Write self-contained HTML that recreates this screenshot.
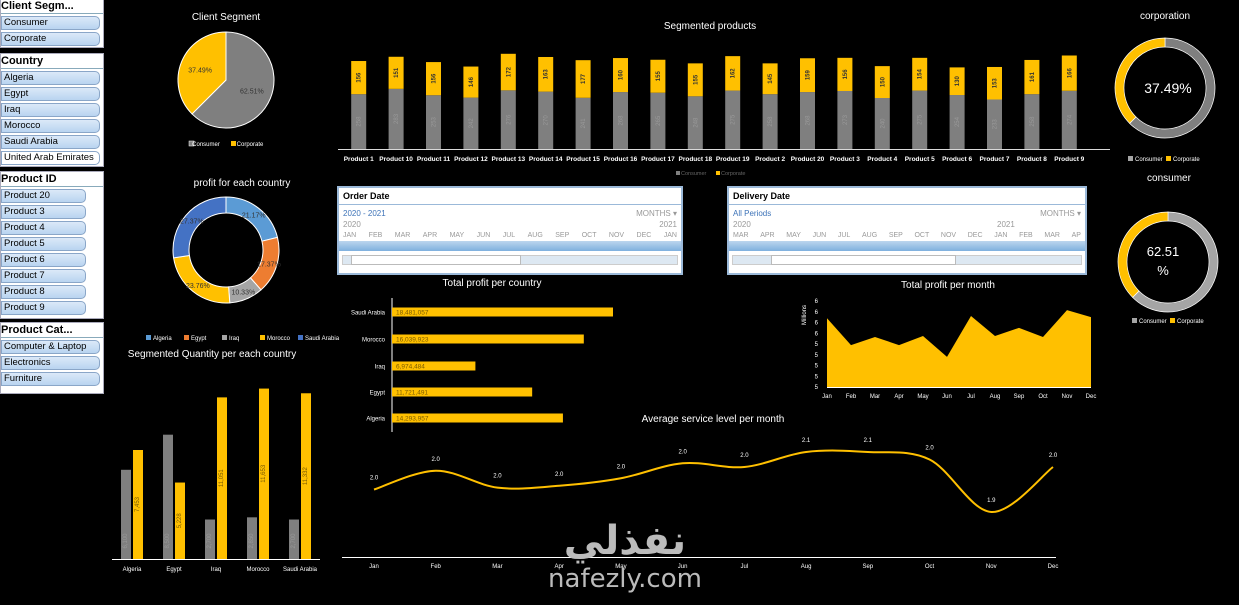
<!DOCTYPE html>
<html><head><meta charset="utf-8">
<style>
*{margin:0;padding:0;box-sizing:border-box}
body{width:1239px;height:605px;background:#000;overflow:hidden;position:relative;font-family:"Liberation Sans",sans-serif}
.panel{position:absolute;left:0;width:104px;background:#fff;border:1px solid #aab;}
.ph{font-weight:bold;font-size:11px;color:#000;height:15px;line-height:14px;padding-left:0;border-bottom:1px solid #8ab;margin-bottom:2px;white-space:nowrap;overflow:hidden}
.it{height:14px;margin:0 0 2px 0;width:99px;background:linear-gradient(#dbe9f8,#b9d4f0);border:1px solid #8aa6c8;border-radius:0 5px 5px 0;font-size:9.5px;line-height:12px;padding-left:2px;color:#000;white-space:nowrap}
.it.off{background:#fff}
.tl{position:absolute;background:#fff;border:2px solid #9bb9d9;font-size:8px;color:#999}
svg{position:absolute;left:0;top:0}
</style></head><body>
<div class="panel" style="top:-2px;height:50px"><div class="ph">Client Segm...</div><div class="it">Consumer</div><div class="it">Corporate</div></div>
<div class="panel" style="top:53px;height:114px"><div class="ph">Country</div>
<div class="it">Algeria</div><div class="it">Egypt</div><div class="it">Iraq</div><div class="it">Morocco</div><div class="it">Saudi Arabia</div><div class="it off">United Arab Emirates</div></div>
<div class="panel" style="top:171px;height:148px"><div class="ph">Product ID</div>
<div class="it" style="width:85px">Product 20</div><div class="it" style="width:85px">Product 3</div><div class="it" style="width:85px">Product 4</div><div class="it" style="width:85px">Product 5</div><div class="it" style="width:85px">Product 6</div><div class="it" style="width:85px">Product 7</div><div class="it" style="width:85px">Product 8</div><div class="it" style="width:85px">Product 9</div></div>
<div class="panel" style="top:322px;height:72px"><div class="ph">Product Cat...</div>
<div class="it">Computer &amp; Laptop</div><div class="it">Electronics</div><div class="it">Furniture</div></div>

<div class="tl" style="left:337px;top:186px;width:346px;height:89px">
<div style="font-size:9px;font-weight:bold;color:#000;padding:3px 4px;border-bottom:1px solid #9bb9d9;height:17px">Order Date</div>
<div style="color:#3d73b8;font-size:8px;padding:4px 4px 2px">2020 - 2021<span style="float:right;color:#999">MONTHS ▾</span></div>
<div style="padding:0 4px">2020<span style="float:right">2021</span></div>
<div style="padding:3px 4px 2px;display:flex;justify-content:space-between;font-size:7px"><span>JAN</span><span>FEB</span><span>MAR</span><span>APR</span><span>MAY</span><span>JUN</span><span>JUL</span><span>AUG</span><span>SEP</span><span>OCT</span><span>NOV</span><span>DEC</span><span>JAN</span></div>
<div style="height:10px;background:linear-gradient(#bcd6ee,#7fb0de)"></div>
<div style="margin:4px 3px;height:10px;border:1px solid #ccc;background:#dde8f2;position:relative"><div style="position:absolute;left:8px;width:170px;top:-1px;height:10px;background:#fff;border:1px solid #bbb"></div></div></div>

<div class="tl" style="left:727px;top:186px;width:360px;height:89px">
<div style="font-size:9px;font-weight:bold;color:#000;padding:3px 4px;border-bottom:1px solid #9bb9d9;height:17px">Delivery Date</div>
<div style="color:#3d73b8;font-size:8px;padding:4px 4px 2px">All Periods<span style="float:right;color:#999">MONTHS ▾</span></div>
<div style="padding:0 4px">2020<span style="position:absolute;left:268px">2021</span></div>
<div style="padding:3px 4px 2px;display:flex;justify-content:space-between;font-size:7px"><span>MAR</span><span>APR</span><span>MAY</span><span>JUN</span><span>JUL</span><span>AUG</span><span>SEP</span><span>OCT</span><span>NOV</span><span>DEC</span><span>JAN</span><span>FEB</span><span>MAR</span><span>AP</span></div>
<div style="height:10px;background:linear-gradient(#bcd6ee,#7fb0de)"></div>
<div style="margin:4px 3px;height:10px;border:1px solid #ccc;background:#dde8f2;position:relative"><div style="position:absolute;left:38px;width:185px;top:-1px;height:10px;background:#fff;border:1px solid #bbb"></div></div></div>

<svg id="s" width="1239" height="605" style="pointer-events:none"></svg>
<div style="position:absolute;left:540px;top:518px;width:170px;text-align:center;color:#bbb;font-family:'DejaVu Sans',sans-serif">
<div style="font-size:40px;font-weight:bold;line-height:46px">نفذلي</div><div style="font-size:26px;line-height:30px">nafezly.com</div></div>
<script>
// ---- data ----
const products=['Product 1','Product 10','Product 11','Product 12','Product 13','Product 14','Product 15','Product 16','Product 17','Product 18','Product 19','Product 2','Product 20','Product 3','Product 4','Product 5','Product 6','Product 7','Product 8','Product 9'];
const consumerQty=[258,283,253,242,276,270,241,268,265,248,275,258,268,273,240,275,254,233,258,274];
const corporateQty=[156,151,156,146,172,163,177,160,155,155,162,145,159,156,150,154,130,153,161,166];
const segmentShare=[62.51,37.49];
const countries=['Algeria','Egypt','Iraq','Morocco','Saudi Arabia'];
const countryProfitShare=[21.17,17.37,10.33,23.76,27.37];
const countryProfit=[14293957,11721491,6974484,16039923,18481057];
const qtyConsumer=[6100,8500,2700,2850,2700];
const qtyCorporate=[7453,5228,11051,11653,11332];
const months=['Jan','Feb','Mar','Apr','May','Jun','Jul','Aug','Sep','Oct','Nov','Dec'];
const monthProfit=[6.08,5.58,5.73,5.58,5.75,5.36,6.12,5.75,5.90,5.73,6.23,6.10];
const profitTicks=['6','6','6','6','5','5','5','5','5'];
const serviceLevel=[1.98,2.03,1.985,1.99,2.01,2.05,2.04,2.08,2.08,2.06,1.92,2.04];
const serviceLabels=['2.0','2.0','2.0','2.0','2.0','2.0','2.0','2.1','2.1','2.0','1.9','2.0'];
// ---- helpers ----
const S=document.getElementById('s'),NS='http://www.w3.org/2000/svg';
function el(t,a,txt){const e=document.createElementNS(NS,t);for(const k in a)e.setAttribute(k,a[k]);if(txt!==undefined)e.textContent=txt;S.appendChild(e);return e;}
function T(x,y,s,txt,o){return el('text',Object.assign({x,y,'font-size':s,fill:'#fff','font-family':'Liberation Sans, sans-serif','text-anchor':'middle'},o||{}),txt);}
const YEL='#ffc000',GRY='#7f7f7f';
function arc(cx,cy,r0,r1,a0,a1){const p=(r,a)=>[cx+r*Math.sin(a),cy-r*Math.cos(a)];const L=a1-a0>Math.PI?1:0;
 const [x1,y1]=p(r1,a0),[x2,y2]=p(r1,a1),[x3,y3]=p(r0,a1),[x4,y4]=p(r0,a0);
 return r0>0?`M${x1},${y1}A${r1},${r1} 0 ${L} 1 ${x2},${y2}L${x3},${y3}A${r0},${r0} 0 ${L} 0 ${x4},${y4}Z`:`M${cx},${cy}L${x1},${y1}A${r1},${r1} 0 ${L} 1 ${x2},${y2}Z`;}
// ---- titles ----
[[226,20,'Client Segment'],[710,29,'Segmented products'],[1165,19,'corporation'],[242,186,'profit for each country'],[1169,181,'consumer'],[492,286,'Total profit per country'],[948,288,'Total profit per month'],[212,357,'Segmented Quantity per each country'],[713,422,'Average service level per month']].forEach(t=>{const e=T(t[0],t[1],10,t[2]);});
// ---- client segment pie ----
{let a=0;const cols=[GRY,YEL];segmentShare.forEach((v,i)=>{const a1=a+v/100*2*Math.PI;const e=el('path',{d:arc(226,80,0,48,a,a1),fill:cols[i],stroke:'#fff','stroke-width':1});const m=(a+a1)/2;T(226+28*Math.sin(m),80-28*Math.cos(m)+3,7,v.toFixed(2)+'%',{fill:'#333'});a=a1;});
 el('rect',{x:189,y:141,width:5,height:5,fill:GRY,stroke:'#fff','stroke-width':.5});T(206,146,6,'Consumer');el('rect',{x:231,y:141,width:5,height:5,fill:YEL});T(250,146,6,'Corporate');}
// ---- country donut ----
{let a=0;const cols=['#5b9bd5','#ed7d31','#a5a5a5','#ffc000','#4472c4'];countryProfitShare.forEach((v,i)=>{const a1=a+v/100*2*Math.PI;const e=el('path',{d:arc(226,250,37,53,a,a1),fill:cols[i],stroke:'#fff','stroke-width':1});const m=(a+a1)/2;T(226+45*Math.sin(m),250-45*Math.cos(m)+3,7,v.toFixed(2)+'%',{fill:'#333'});a=a1;});
 countries.forEach((c,i)=>{const x=146+i*38;el('rect',{x,y:335,width:5,height:5,fill:cols[i]});T(x+7,340,6,c,{'text-anchor':'start'});});}
// ---- right donuts ----
function ring(cx,cy,vals,cols){let a=0;vals.forEach((v,i)=>{const a1=a+v/100*2*Math.PI;const e=el('path',{d:arc(cx,cy,41,50,a,a1),fill:cols[i],stroke:'#fff','stroke-width':.7});a=a1;});}
ring(1165,88,[62.51,37.49],[GRY,YEL]);T(1168,93,14,'37.49%');
ring(1168,262,[62.51,37.49],['#a5a5a5',YEL]);T(1163,256,13,'62.51');T(1163,275,13,'%');
[[1128,161],[1132,323]].forEach(p=>{el('rect',{x:p[0],y:p[1]-5,width:5,height:5,fill:'#a5a5a5'});T(p[0]+7,p[1],6,'Consumer',{'text-anchor':'start'});el('rect',{x:p[0]+38,y:p[1]-5,width:5,height:5,fill:YEL});T(p[0]+45,p[1],6,'Corporate',{'text-anchor':'start'});});
// ---- segmented products ----
{const x0=340,step=37.4,base=149,k=0.2125;el('line',{x1:338,y1:base+.5,x2:1110,y2:base+.5,stroke:'#d9d9d9'});
 products.forEach((p,i)=>{const cx=x0+step*(i+.5),h1=consumerQty[i]*k,h2=corporateQty[i]*k;
  const g=el('rect',{x:cx-7.5,y:base-h1,width:15,height:h1,fill:GRY});
  const y=el('rect',{x:cx-7.5,y:base-h1-h2,width:15,height:h2,fill:YEL});
  T(cx+2,base-h1/2,6,consumerQty[i],{fill:'#999',transform:`rotate(-90 ${cx+2} ${base-h1/2})`});
  T(cx+2,base-h1-h2/2,6,corporateQty[i],{fill:'#333','font-weight':'bold',transform:`rotate(-90 ${cx+2} ${base-h1-h2/2})`});
  T(cx,161,6.5,p,{'font-weight':'bold'});});
 el('rect',{x:676,y:171,width:4,height:4,fill:GRY});T(681,175,5.5,'Consumer',{fill:'#666','text-anchor':'start'});el('rect',{x:716,y:171,width:4,height:4,fill:YEL});T(721,175,5.5,'Corporate',{fill:'#666','text-anchor':'start'});}
// ---- horizontal bars profit per country ----
{const ax=392,k=221/18481057,rows=[418,392,366,339,312];el('line',{x1:ax,y1:298,x2:ax,y2:432,stroke:'#fff'});
 countries.forEach((c,i)=>{const w=countryProfit[i]*k;const r=el('rect',{x:ax,y:rows[i]-4.5,width:w,height:9,fill:YEL});
  T(ax+4,rows[i]+2.5,6.5,countryProfit[i].toLocaleString('en-US'),{fill:'#7a5a00','text-anchor':'start'});T(385,rows[i]+2.5,6,c,{'text-anchor':'end'});});}
// ---- quantity per country ----
{const base=559,k=109/7453;el('line',{x1:112,y1:base+.5,x2:320,y2:base+.5,stroke:'#fff'});
 countries.forEach((c,i)=>{const cx=132+i*42;const h1=qtyConsumer[i]*k,h2=qtyCorporate[i]*k;
  const g=el('rect',{x:cx-11,y:base-h1,width:10,height:h1,fill:GRY});
  const y=el('rect',{x:cx+1,y:base-h2,width:10,height:h2,fill:YEL});
  T(cx-5,base-18,6,qtyConsumer[i].toLocaleString('en-US'),{fill:'#999',transform:`rotate(-90 ${cx-5} ${base-18})`});
  T(cx+7,base-h2/2,6,qtyCorporate[i].toLocaleString('en-US'),{fill:'#7a5a00',transform:`rotate(-90 ${cx+7} ${base-h2/2})`});
  T(cx,571,6,c);});}
// ---- area profit per month ----
{const x0=827,x1=1091,base=387,top=301,vmin=4.8,vmax=6.4;const X=i=>x0+(x1-x0)*i/11,Y=v=>base-(v-vmin)/(vmax-vmin)*(base-top);
 let d=`M${x0},${base}`;monthProfit.forEach((v,i)=>d+=`L${X(i)},${Y(v)}`);d+=`L${x1},${base}Z`;const a=el('path',{d,fill:YEL});
 el('line',{x1:x0,y1:base+.5,x2:x1,y2:base+.5,stroke:'#fff'});
 profitTicks.forEach((t,i)=>T(818,top+i*(base-top)/8+2,6,t,{'text-anchor':'end'}));
 T(806,315,6,'Millions',{transform:'rotate(-90 806 315)'});
 months.forEach((m,i)=>T(X(i),398,6,m));}
// ---- line service level ----
{const x0=374,x1=1053,base=557,k=375,vmin=1.8;const X=i=>x0+(x1-x0)*i/11,Y=v=>base-(v-vmin)*k;
 el('line',{x1:342,y1:base+.5,x2:1056,y2:base+.5,stroke:'#fff'});
 const P=serviceLevel.map((v,i)=>[X(i),Y(v)]);let d=`M${P[0][0]},${P[0][1]}`;
 for(let i=0;i<P.length-1;i++){const p0=P[i-1]||P[i],p1=P[i],p2=P[i+1],p3=P[i+2]||p2;d+=`C${p1[0]+(p2[0]-p0[0])/6},${p1[1]+(p2[1]-p0[1])/6} ${p2[0]-(p3[0]-p1[0])/6},${p2[1]-(p3[1]-p1[1])/6} ${p2[0]},${p2[1]}`;}
 const l=el('path',{d,fill:'none',stroke:YEL,'stroke-width':2});
 P.forEach((p,i)=>{T(p[0],p[1]-10,6,serviceLabels[i]);T(p[0],568,6,months[i]);});}
</script>
</body></html>
